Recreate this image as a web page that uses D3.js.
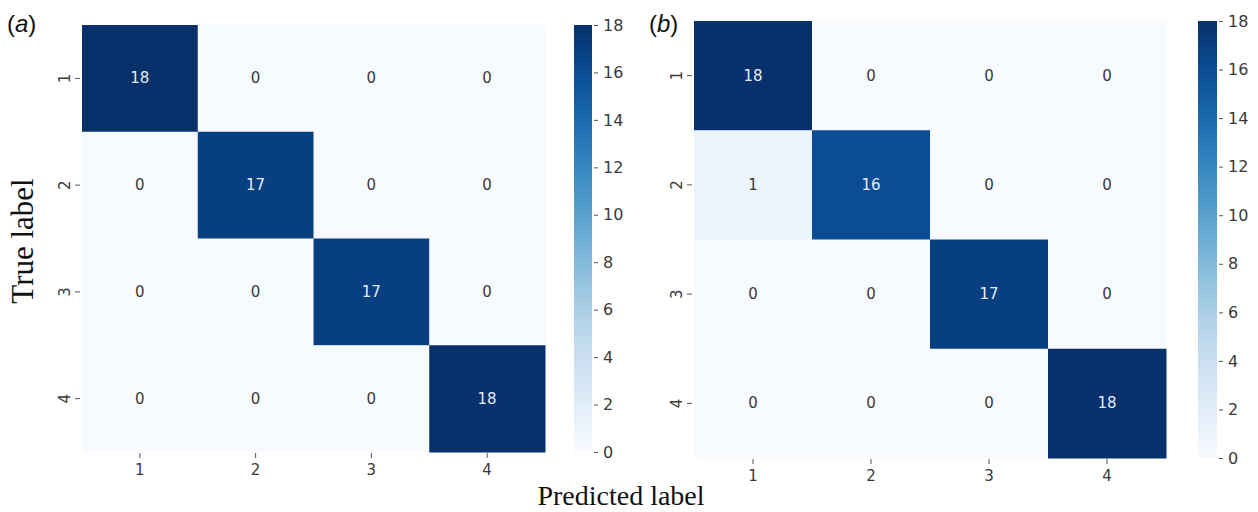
<!DOCTYPE html>
<html>
<head>
<meta charset="utf-8">
<script src="https://cdn.jsdelivr.net/npm/d3@7"></script>
<style>
  html, body { margin: 0; padding: 0; background: #ffffff; }
  svg { display: block; }
</style>
</head>
<body>
<svg id="chart" width="1258" height="512"></svg>
<script>
// Class labels shared by both confusion matrices
const categories = ["1", "2", "3", "4"];

// Confusion matrix counts: rows = true label, columns = predicted label
const matrixA = [
  [18, 0, 0, 0],
  [0, 17, 0, 0],
  [0, 0, 17, 0],
  [0, 0, 0, 18]
];
const matrixB = [
  [18, 0, 0, 0],
  [1, 16, 0, 0],
  [0, 0, 17, 0],
  [0, 0, 0, 18]
];

// Colour bar extent and tick labels
const colorDomain = [0, 18];
const colorTicks = [0, 2, 4, 6, 8, 10, 12, 14, 16, 18];

const svg = d3.select("#chart");
const color = d3.scaleSequential(d3.interpolateBlues).domain(colorDomain);

// Gradient used by both colour bars (bottom = 0, top = 18)
const defs = svg.append("defs");
const grad = defs.append("linearGradient")
  .attr("id", "bluesGrad")
  .attr("x1", 0).attr("y1", 1).attr("x2", 0).attr("y2", 0);
d3.range(0, 1.0001, 0.05).forEach(t => {
  grad.append("stop")
    .attr("offset", t)
    .attr("stop-color", d3.interpolateBlues(t));
});

const tickFont = "'DejaVu Sans', 'Liberation Sans', sans-serif";
const serifFont = "'Liberation Serif', 'Times New Roman', serif";

function drawPanel(cfg) {
  const { data, left, top, width, height, barX, barW, tag, tagX, tagY } = cfg;
  const g = svg.append("g");

  const x = d3.scaleBand().domain(categories).range([left, left + width]);
  const y = d3.scaleBand().domain(categories).range([top, top + height]);

  // Cells
  const cells = [];
  data.forEach((row, i) => row.forEach((v, j) => cells.push({ r: categories[i], c: categories[j], v })));

  g.selectAll("rect.cell")
    .data(cells)
    .join("rect")
    .attr("class", "cell")
    .attr("x", d => x(d.c))
    .attr("y", d => y(d.r))
    .attr("width", x.bandwidth() + 0.5)
    .attr("height", y.bandwidth() + 0.5)
    .attr("fill", d => color(d.v));

  // Cell annotations
  g.selectAll("text.annot")
    .data(cells)
    .join("text")
    .attr("class", "annot")
    .attr("x", d => x(d.c) + x.bandwidth() / 2)
    .attr("y", d => y(d.r) + y.bandwidth() / 2)
    .attr("text-anchor", "middle")
    .attr("dominant-baseline", "central")
    .attr("font-family", tickFont)
    .attr("font-size", 15)
    .attr("fill", d => d.v > 9 ? "#e4eaf4" : "#3a3a3a")
    .text(d => d.v);

  // Bottom axis (predicted label)
  const xAxis = g.append("g")
    .attr("transform", `translate(0,${top + height + 1})`)
    .call(d3.axisBottom(x).tickSize(5).tickPadding(6));
  xAxis.select(".domain").remove();
  xAxis.selectAll("line").attr("stroke", "#555");
  xAxis.selectAll("text")
    .attr("font-family", tickFont)
    .attr("font-size", 15)
    .attr("fill", "#3a3a3a");

  // Left axis (true label), labels rotated to read bottom-to-top
  const yAxis = g.append("g")
    .attr("transform", `translate(${left - 2},0)`)
    .call(d3.axisLeft(y).tickSize(5).tickPadding(6));
  yAxis.select(".domain").remove();
  yAxis.selectAll("line").attr("stroke", "#555");
  yAxis.selectAll("text")
    .attr("font-family", tickFont)
    .attr("font-size", 15)
    .attr("fill", "#3a3a3a")
    .attr("text-anchor", "middle")
    .attr("dy", null)
    .attr("x", 0)
    .attr("y", 0)
    .attr("dominant-baseline", "central")
    .attr("transform", "translate(-15,0) rotate(-90)");

  // Colour bar
  const cy = d3.scaleLinear().domain(colorDomain).range([top + height, top]);
  g.append("rect")
    .attr("x", barX)
    .attr("y", cy(colorDomain[1]))
    .attr("width", barW)
    .attr("height", cy(colorDomain[0]) - cy(colorDomain[1]))
    .attr("fill", "url(#bluesGrad)");

  const cAxis = g.append("g")
    .attr("transform", `translate(${barX + barW},0)`)
    .call(d3.axisRight(cy).tickValues(colorTicks).tickSize(6).tickPadding(5));
  cAxis.select(".domain").remove();
  cAxis.selectAll("line").attr("stroke", "#555").attr("x1", 2);
  cAxis.selectAll("text")
    .attr("font-family", tickFont)
    .attr("font-size", 16)
    .attr("fill", "#3a3a3a");

  // Panel tag, e.g. (a)
  const tagText = g.append("text")
    .attr("x", tagX)
    .attr("y", tagY)
    .attr("font-family", "'Liberation Sans', Arial, sans-serif")
    .attr("font-size", 24)
    .attr("fill", "#111");
  tagText.append("tspan").text("(");
  tagText.append("tspan").attr("font-style", "italic").text(tag);
  tagText.append("tspan").text(")");
}

drawPanel({ data: matrixA, left: 82, top: 25, width: 463, height: 427, barX: 574, barW: 18, tag: "a", tagX: 7, tagY: 32 });
drawPanel({ data: matrixB, left: 694, top: 21, width: 472, height: 437, barX: 1198, barW: 19, tag: "b", tagX: 649, tagY: 32 });

// Shared axis titles
svg.append("text")
  .attr("transform", "translate(33,241) rotate(-90)")
  .attr("text-anchor", "middle")
  .attr("font-family", serifFont)
  .attr("font-size", 31)
  .attr("fill", "#111")
  .text("True label");

svg.append("text")
  .attr("x", 621)
  .attr("y", 505)
  .attr("text-anchor", "middle")
  .attr("font-family", serifFont)
  .attr("font-size", 28)
  .attr("fill", "#111")
  .text("Predicted label");
</script>
</body>
</html>
